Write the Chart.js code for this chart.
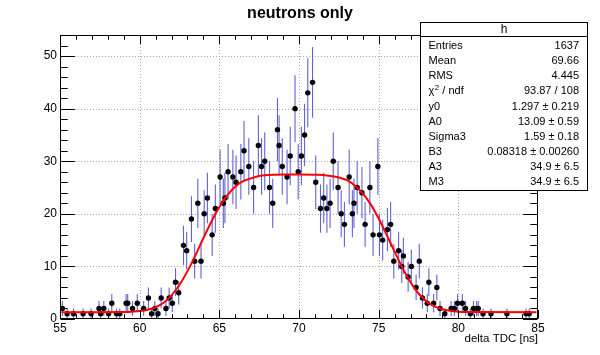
<!DOCTYPE html>
<html>
<head>
<meta charset="utf-8">
<script src="https://cdn.jsdelivr.net/npm/chart.js@4/dist/chart.umd.min.js"></script>
<style>
html,body{margin:0;padding:0;background:#fff;}
#wrap{width:600px;height:355px;}
</style>
</head>
<body>
<div id="wrap"><canvas id="c" width="600" height="355"></canvas></div>
<script>
// ---- data ----
const binX = [55.15,55.45,55.85,56.45,56.95,57.45,57.55,57.75,58.05,58.25,58.55,58.75,59.15,59.25,59.55,59.85,60.25,60.55,60.75,60.95,61.15,61.35,61.65,61.85,62.05,62.25,62.45,
62.75,62.95,63.25,63.45,63.65,63.85,64.05,64.25,64.55,64.75,65.05,65.25,65.35,65.55,65.85,66.05,66.35,66.55,66.85,67.15,67.45,67.65,67.85,68.15,68.35,68.65,68.75,68.95,69.25,69.45,69.75,69.95,70.15,70.35,70.55,70.85,
71.05,71.35,71.55,71.75,71.95,72.15,72.45,72.65,72.85,73.15,73.35,73.45,73.65,73.95,74.15,74.45,74.65,74.95,75.05,75.25,75.55,75.75,
75.95,76.25,76.45,76.55,76.85,77.05,77.35,77.55,77.75,78.05,78.15,78.45,78.65,78.85,79.15,79.55,79.75,79.95,80.25,80.45,80.75,80.95,81.15,81.25,81.55,82.05,83.05,84.25,84.45];
const counts = [2,1,1,1,1,2,1,2,1,3,1,1,3,3,2,3,2,4,1,2,1,4,2,4,3,7,5,
14,13,19,11,22,11,20,23,16,21,27,22,23,28,27,26,28,32,29,25,33,29,30,25,22,36,33,29,27,31,40,28,31,35,43,45,
26,21,23,21,22,30,25,20,18,27,20,22,25,24,18,25,16,29,16,15,17,18,
11,13,10,12,8,10,6,11,4,3,7,3,6,2,1,2,2,3,3,2,1,2,2,2,1,1,1,1,1];

// fit curve
const fitX = [55.1,57,59,59.5,60,60.5,61,61.5,62,62.5,63,63.5,64,64.5,65,65.5,66,66.5,67,67.5,68,68.5,69,70,71,71.5,72,72.5,73,73.5,74,74.5,75,75.5,76,76.5,77,77.5,78,78.5,79,79.5,80,81,84.9];
const fitY = [1.3,1.3,1.33,1.38,1.5,1.75,2.25,3.1,4.5,6.5,9.1,12.1,15.4,18.5,21.3,23.5,25.2,26.2,26.75,27.2,27.36,27.43,27.47,27.48,27.45,27.4,27.2,26.9,26.4,25.4,23.9,21.8,19.1,16.0,12.8,9.7,7.0,4.85,3.35,2.4,1.85,1.55,1.4,1.32,1.3];

// axis tick labels / ranges
const xTickValues = [55,60,65,70,75,80,85];
const yTickValues = [0,10,20,30,40,50];
const xRange = [55,85];
const yRange = [0,54];

const titleText = 'neutrons only';
const xAxisTitle = 'delta TDC [ns]';
const statsName = 'h';
const statsLabels = ['Entries','Mean','RMS','CHI2','y0','A0','Sigma3','B3','A3','M3'];
const statsValues = ['1637','69.66','4.445','93.87 / 108','1.297 \u00b1 0.219','13.09 \u00b1 0.59','1.59 \u00b1 0.18','0.08318 \u00b1 0.00260','34.9 \u00b1 6.5','34.9 \u00b1 6.5'];

const FONT = '"Liberation Sans", Arial, Helvetica, sans-serif';

const decor = {
  id: 'decor',
  beforeDatasetsDraw(chart) {
    const {ctx, chartArea: a, scales: {x, y}} = chart;
    ctx.save();
    // grid
    ctx.strokeStyle = '#a8a8a8';
    ctx.lineWidth = 1;
    ctx.setLineDash([1, 2]);
    xTickValues.forEach(v => {
      const px = Math.round(x.getPixelForValue(v)) + 0.5;
      if (px <= a.left + 1 || px >= a.right - 1) return;
      ctx.beginPath(); ctx.moveTo(px, a.top); ctx.lineTo(px, a.bottom); ctx.stroke();
    });
    yTickValues.forEach(v => {
      const py = Math.round(y.getPixelForValue(v)) + 0.5;
      if (py <= a.top + 1 || py >= a.bottom - 1) return;
      ctx.beginPath(); ctx.moveTo(a.left, py); ctx.lineTo(a.right, py); ctx.stroke();
    });
    ctx.setLineDash([]);
    // error bars
    ctx.beginPath();
    ctx.rect(a.left, a.top, a.right - a.left, a.bottom - a.top);
    ctx.clip();
    ctx.strokeStyle = 'rgba(70,70,205,0.85)';
    ctx.lineWidth = 1.1;
    binX.forEach((bx, i) => {
      const n = counts[i];
      const e = Math.sqrt(n);
      const px = x.getPixelForValue(bx);
      ctx.beginPath();
      ctx.moveTo(px, y.getPixelForValue(n - e));
      ctx.lineTo(px, y.getPixelForValue(n + e));
      ctx.stroke();
    });
    ctx.restore();
  },
  afterDatasetsDraw(chart) {
    const {ctx, chartArea: a, scales: {x, y}} = chart;
    ctx.save();
    ctx.strokeStyle = '#000';
    ctx.lineWidth = 1;
    const L = Math.round(a.left) + 0.5, R = Math.round(a.right) - 0.5;
    const T = Math.round(a.top) + 0.5, B = Math.round(a.bottom) - 0.5;
    ctx.strokeRect(L, T, R - L, B - T);
    ctx.beginPath();
    for (let v = xRange[0]; v <= xRange[1]; v += 1) {
      const px = Math.round(x.getPixelForValue(v)) + 0.5;
      const len = (v % 5 === 0) ? 8.5 : 4.3;
      ctx.moveTo(px, B); ctx.lineTo(px, B - len);
      ctx.moveTo(px, T); ctx.lineTo(px, T + len);
    }
    for (let v = yRange[0]; v <= yRange[1]; v += 2) {
      const py = Math.round(y.getPixelForValue(v)) + 0.5;
      const len = (v % 10 === 0) ? 14.3 : 7.2;
      ctx.moveTo(L, py); ctx.lineTo(L + len, py);
      ctx.moveTo(R, py); ctx.lineTo(R - len, py);
    }
    ctx.stroke();
    ctx.restore();
  },
  afterDraw(chart) {
    const {ctx} = chart;
    ctx.save();
    ctx.fillStyle = '#000';
    ctx.font = 'bold 16px ' + FONT;
    ctx.textAlign = 'center';
    ctx.textBaseline = 'alphabetic';
    ctx.fillText(titleText, 300, 18);
    const bx0 = 420.5, by0 = 22.5, bx1 = 587.5, by1 = 190.5;
    ctx.fillStyle = '#fff';
    ctx.fillRect(bx0, by0, bx1 - bx0, by1 - by0);
    ctx.strokeStyle = '#000';
    ctx.lineWidth = 1;
    ctx.strokeRect(bx0, by0, bx1 - bx0, by1 - by0);
    ctx.beginPath(); ctx.moveTo(bx0, 36.5); ctx.lineTo(bx1, 36.5); ctx.stroke();
    ctx.fillStyle = '#000';
    ctx.font = '12px ' + FONT;
    ctx.textAlign = 'center';
    ctx.textBaseline = 'middle';
    ctx.fillText(statsName, (bx0 + bx1) / 2, 29.5);
    ctx.font = '11px ' + FONT;
    const rowY0 = 46, rowStep = 15.15;
    statsLabels.forEach((lab, i) => {
      const ry = rowY0 + i * rowStep;
      ctx.textAlign = 'left';
      if (lab === 'CHI2') {
        ctx.font = '11px ' + FONT;
        ctx.fillText('\u03c7', 428.5, ry);
        const w = ctx.measureText('\u03c7').width;
        ctx.font = '8px ' + FONT;
        ctx.fillText('2', 428.5 + w + 0.5, ry - 3.5);
        const w2 = ctx.measureText('2').width;
        ctx.font = '11px ' + FONT;
        ctx.fillText(' / ndf', 428.5 + w + 0.5 + w2, ry);
      } else {
        ctx.fillText(lab, 428.5, ry);
      }
      ctx.textAlign = 'right';
      ctx.fillText(statsValues[i], 579, ry);
    });
    ctx.restore();
  }
};

new Chart(document.getElementById('c'), {
  type: 'scatter',
  data: {
    datasets: [
      {
        type: 'line',
        data: fitX.map((v, i) => ({x: v, y: fitY[i]})),
        borderColor: '#ff0000',
        borderWidth: 2,
        pointRadius: 0,
        fill: false,
        cubicInterpolationMode: 'monotone',
        order: 0
      },
      {
        data: binX.map((v, i) => ({x: v, y: counts[i]})),
        backgroundColor: '#000',
        borderColor: '#000',
        borderWidth: 0,
        pointRadius: 2.7,
        pointHoverRadius: 2.7,
        order: 1
      }
    ]
  },
  options: {
    responsive: false,
    devicePixelRatio: 1,
    animation: false,
    events: [],
    layout: {padding: {top: 35, right: 62, left: 0, bottom: 0}},
    plugins: {legend: {display: false}, tooltip: {enabled: false}, title: {display: false}},
    scales: {
      x: {
        type: 'linear',
        min: xRange[0], max: xRange[1],
        afterFit(s) { s.height = 36; },
        afterBuildTicks(s) { s.ticks = xTickValues.map(v => ({value: v})); },
        grid: {display: false, drawTicks: false},
        border: {display: false},
        ticks: {color: '#000', font: {family: FONT, size: 12}, padding: 2, maxRotation: 0, autoSkip: false},
        title: {display: true, text: xAxisTitle, align: 'end', color: '#000', font: {family: FONT, size: 11.5}, padding: {top: 0, bottom: 9}}
      },
      y: {
        type: 'linear',
        min: yRange[0], max: yRange[1],
        afterFit(s) { s.width = 60; },
        afterBuildTicks(s) { s.ticks = yTickValues.map(v => ({value: v})); },
        grid: {display: false, drawTicks: false},
        border: {display: false},
        ticks: {color: '#000', font: {family: FONT, size: 12}, padding: 3, autoSkip: false}
      }
    }
  },
  plugins: [decor]
});
</script>
</body>
</html>
